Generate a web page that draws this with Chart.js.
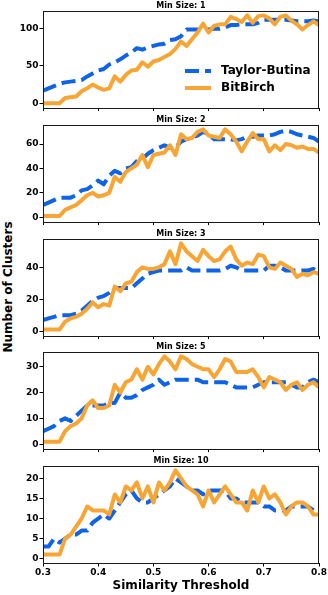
<!DOCTYPE html>
<html>
<head>
<meta charset="utf-8">
<script src="https://cdn.jsdelivr.net/npm/chart.js@4.4.1/dist/chart.umd.min.js"></script>
<style>
  body { margin: 0; background: #fff; width: 328px; height: 595px; position: relative; overflow: hidden; }
  .panel { position: absolute; left: 0; }
  #ytitle {
    position: absolute; left: 8px; top: 287px;
    transform: translate(-50%, -50%) rotate(-90deg);
    font: bold 12px "DejaVu Sans"; color: #000; white-space: nowrap;
  }
</style>
</head>
<body>
<div id="ytitle">Number of Clusters</div>
<canvas class="panel" id="p1"></canvas>
<canvas class="panel" id="p2"></canvas>
<canvas class="panel" id="p3"></canvas>
<canvas class="panel" id="p4"></canvas>
<canvas class="panel" id="p5"></canvas>
<script>
////////// Data
const thresholds = [0.30, 0.31, 0.32, 0.33, 0.34, 0.35, 0.36, 0.37, 0.38, 0.39,
  0.40, 0.41, 0.42, 0.43, 0.44, 0.45, 0.46, 0.47, 0.48, 0.49,
  0.50, 0.51, 0.52, 0.53, 0.54, 0.55, 0.56, 0.57, 0.58, 0.59,
  0.60, 0.61, 0.62, 0.63, 0.64, 0.65, 0.66, 0.67, 0.68, 0.69,
  0.70, 0.71, 0.72, 0.73, 0.74, 0.75, 0.76, 0.77, 0.78, 0.79, 0.80];
const xTicks = [0.3, 0.4, 0.5, 0.6, 0.7, 0.8];

// Min Size: 1
const taylor1 = [17, 20, 23, 26, 28, 29, 30, 31, 36, 40, 44, 46, 52, 55, 59, 64, 68, 74, 72, 75,
  77, 79, 80, 85, 86, 90, 99, 99, 99, 99, 99, 100, 100, 102, 105, 105, 106, 106, 106, 108,
  112, 112, 112, 112, 112, 111, 110, 110, 110, 111, 110];
const birch1 = [0, 0, 0, 0, 7, 8, 9, 16, 20, 25, 21, 18, 20, 36, 29, 38, 44, 45, 55, 49,
  56, 58, 62, 66, 73, 83, 77, 86, 95, 107, 95, 104, 106, 106, 116, 113, 109, 118, 108, 117,
  118, 114, 106, 116, 118, 111, 106, 99, 105, 110, 105];

// Min Size: 2
const taylor2 = [10, 12, 14, 16, 16, 16, 18, 22, 23, 26, 30, 27, 34, 38, 36, 40, 41, 46, 48, 52,
  55, 57, 59, 57, 57, 62, 64, 65, 67, 70, 68, 64, 64, 64, 64, 63, 64, 66, 66, 67,
  67, 67, 68, 70, 71, 70, 68, 67, 66, 65, 62];
const birch2 = [1, 1, 1, 1, 6, 8, 10, 14, 18, 20, 17, 18, 20, 33, 29, 37, 40, 43, 51, 41,
  51, 52, 53, 59, 51, 68, 64, 65, 70, 72, 67, 66, 65, 72, 68, 62, 54, 62, 69, 64,
  64, 54, 59, 55, 60, 59, 57, 58, 56, 56, 53];

// Min Size: 3
const taylor3 = [7, 8, 9, 10, 10, 10, 11, 13, 16, 19, 21, 22, 24, 27, 27, 27, 27, 30, 33, 36,
  37, 38, 38, 38, 38, 38, 40, 38, 38, 38, 38, 38, 38, 39, 41, 40, 38, 38, 38, 38,
  38, 41, 41, 40, 38, 38, 38, 38, 38, 39, 37];
const birch3 = [1, 1, 1, 1, 6, 8, 9, 11, 14, 18, 15, 17, 16, 28, 25, 30, 31, 37, 40, 39,
  39, 40, 42, 50, 42, 55, 50, 47, 44, 51, 47, 44, 45, 50, 53, 45, 41, 43, 42, 48,
  47, 40, 39, 43, 41, 39, 34, 36, 35, 37, 36];

// Min Size: 5
const taylor5 = [5, 6, 7, 9, 10, 9, 11, 13, 15, 15, 15, 15, 16, 16, 20, 18, 18, 19, 21, 22,
  23, 25, 23, 24, 25, 25, 25, 25, 25, 24, 24, 24, 24, 24, 23, 22, 22, 22, 22, 23,
  24, 24, 24, 24, 24, 23, 22, 22, 24, 25, 24];
const birch5 = [1, 1, 1, 1, 5, 7, 8, 10, 15, 17, 14, 14, 15, 23, 20, 24, 25, 29, 25, 30,
  27, 31, 34, 32, 29, 34, 33, 31, 30, 29, 29, 26, 29, 33, 32, 28, 28, 28, 29, 26,
  22, 26, 25, 24, 21, 23, 24, 21, 23, 24, 22];

// Min Size: 10
const taylor10 = [3, 3, 5, 4, 5, 6, 6, 7, 7, 9, 10, 11, 10, 12, 14, 16, 17, 15, 14, 14,
  15, 16, 17, 18, 20, 19, 18, 17, 17, 16, 17, 17, 17, 17, 15, 15, 14, 14, 14, 14,
  13, 13, 12, 12, 12, 13, 13, 13, 13, 12, 11];
const birch10 = [1, 1, 1, 1, 5, 6, 8, 10, 13, 12, 12, 12, 11, 16, 14, 18, 17, 19, 15, 18,
  14, 19, 17, 19, 22, 20, 18, 17, 16, 13, 17, 14, 16, 18, 16, 14, 14, 12, 17, 14,
  18, 15, 16, 14, 11, 13, 14, 14, 13, 11, 11];

const panelTitles = ["Min Size: 1", "Min Size: 2", "Min Size: 3", "Min Size: 5", "Min Size: 10"];
const yTickSets = [[0, 50, 100], [0, 20, 40, 60], [0, 20, 40], [0, 10, 20, 30], [0, 5, 10, 15, 20]];
const yRanges = [[-5.9, 123.9], [-3.6, 75.6], [-2.75, 57.75], [-1.7, 35.7], [-1.1, 23.1]];
const taylorSets = [taylor1, taylor2, taylor3, taylor5, taylor10];
const birchSets = [birch1, birch2, birch3, birch5, birch10];

////////// Layout / style
const BLUE = "rgb(14, 99, 231)";
const ORANGE = "rgb(247, 165, 52)";
const FONT = "DejaVu Sans";
const plotTops = [11, 125, 239, 352, 466];
const plotHeight = 97;
const titleSpace = 11;

const framePlugin = {
  id: "frame",
  afterDatasetsDraw(chart) {
    const { ctx, chartArea: a } = chart;
    ctx.save();
    ctx.strokeStyle = "#1a1a1a";
    ctx.lineWidth = 1;
    ctx.strokeRect(Math.round(a.left) + 0.5, Math.round(a.top) + 0.5,
      Math.round(a.right - a.left) - 1, Math.round(a.bottom - a.top));
    ctx.restore();
  },
  afterDraw(chart, args, opts) {
    const { ctx, chartArea: a } = chart;
    ctx.save();
    ctx.fillStyle = "#000";
    ctx.font = "bold 8px '" + FONT + "'";
    ctx.textAlign = "center";
    ctx.textBaseline = "middle";
    ctx.fillText(opts.title, (a.left + a.right) / 2, a.top - 5.5);
    ctx.restore();
  },
};

const legendPlugin = {
  id: "insideLegend",
  afterDraw(chart, args, opts) {
    if (!opts.show) return;
    const { ctx, chartArea: a } = chart;
    const x0 = a.right - 134, x1 = a.right - 108, tx = a.right - 98;
    const rows = [
      { y: a.top + 60, color: BLUE, dash: [14, 6], text: "Taylor-Butina" },
      { y: a.top + 77, color: ORANGE, dash: [], text: "BitBirch" },
    ];
    ctx.save();
    rows.forEach((r) => {
      ctx.strokeStyle = r.color;
      ctx.lineWidth = 4;
      ctx.setLineDash(r.dash);
      ctx.beginPath();
      ctx.moveTo(x0, r.y);
      ctx.lineTo(x1, r.y);
      ctx.stroke();
      ctx.setLineDash([]);
      ctx.fillStyle = "#000";
      ctx.font = "bold 12px '" + FONT + "'";
      ctx.textAlign = "left";
      ctx.textBaseline = "middle";
      ctx.fillText(r.text, tx, r.y);
    });
    ctx.restore();
  },
};

function buildPanel(i) {
  const last = i === 4;
  const bottomSpace = last ? 595 - (plotTops[i] + plotHeight) : 6;
  const canvas = document.getElementById("p" + (i + 1));
  canvas.width = 328;
  canvas.height = titleSpace + plotHeight + bottomSpace;
  canvas.style.top = plotTops[i] - titleSpace + "px";

  const tickFont = { family: FONT, size: 9, weight: "bold" };

  return new Chart(canvas.getContext("2d"), {
    type: "line",
    data: {
      labels: thresholds,
      datasets: [
        {
          label: "Taylor-Butina",
          data: thresholds.map((t, k) => ({ x: t, y: taylorSets[i][k] })),
          borderColor: BLUE,
          borderWidth: 4,
          borderDash: [14, 6],
          borderJoinStyle: "round",
          pointRadius: 0,
          fill: false,
          tension: 0,
          order: 2,
        },
        {
          label: "BitBirch",
          data: thresholds.map((t, k) => ({ x: t, y: birchSets[i][k] })),
          borderColor: ORANGE,
          borderWidth: 4,
          borderJoinStyle: "round",
          pointRadius: 0,
          fill: false,
          tension: 0,
          order: 1,
        },
      ],
    },
    options: {
      responsive: false,
      animation: false,
      events: [],
      layout: { padding: { top: titleSpace, right: 9, left: 0, bottom: 0 } },
      plugins: {
        legend: { display: false },
        tooltip: { enabled: false },
        frame: { title: panelTitles[i] },
        insideLegend: { show: i === 0 },
      },
      scales: {
        x: {
          type: "linear",
          min: 0.3,
          max: 0.8,
          afterBuildTicks: (s) => { s.ticks = xTicks.map((v) => ({ value: v })); },
          afterFit: (s) => { s.height = bottomSpace; },
          border: { display: false },
          grid: { drawOnChartArea: false, drawTicks: true, tickLength: 3.5, color: "#000", lineWidth: 1 },
          ticks: {
            display: last,
            color: "#000",
            font: tickFont,
            padding: 1,
            maxRotation: 0,
            callback: (v) => v.toFixed(1),
          },
          title: {
            display: last,
            text: "Similarity Threshold",
            color: "#000",
            font: { family: FONT, size: 12, weight: "bold" },
            padding: { top: 0, bottom: 2 },
          },
        },
        y: {
          min: yRanges[i][0],
          max: yRanges[i][1],
          afterBuildTicks: (s) => { s.ticks = yTickSets[i].map((v) => ({ value: v })); },
          afterFit: (s) => { s.width = 43; },
          border: { display: false },
          grid: { drawOnChartArea: false, drawTicks: true, tickLength: 3.5, color: "#000", lineWidth: 1 },
          ticks: { color: "#000", font: tickFont, padding: 1 },
        },
      },
    },
    plugins: [framePlugin, legendPlugin],
  });
}

const charts = [0, 1, 2, 3, 4].map(buildPanel);
</script>
</body>
</html>
